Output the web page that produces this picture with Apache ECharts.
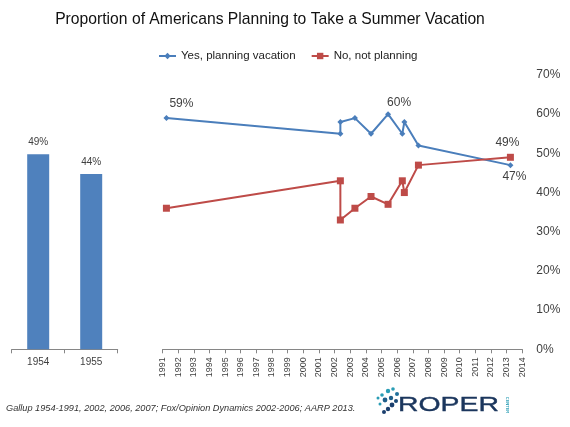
<!DOCTYPE html>
<html>
<head>
<meta charset="utf-8">
<script src="https://cdn.jsdelivr.net/npm/echarts@6/dist/echarts.min.js"></script>
<style>html,body{margin:0;padding:0;background:#fff;}#c{width:570px;height:427px;}</style>
</head>
<body>
<div id="c"></div>
<script>
const titleText = 'Proportion of Americans Planning to Take a Summer Vacation';
const barCategories = ['1954', '1955'];
const barValues = [49, 44];
const lineYears = [1991.25, 2002.37, 2002.37, 2003.3, 2004.33, 2005.42, 2006.33, 2006.46, 2007.36, 2013.24];
const yesValues = [59, 55, 58, 59, 55, 60, 55, 58, 52, 47];
const noValues = [36, 43, 33, 36, 39, 37, 43, 40, 47, 49];
const yesName = 'Yes, planning vacation';
const noName = 'No, not planning';
const sourceText = 'Gallup 1954-1991, 2002, 2006, 2007; Fox/Opinion Dynamics 2002-2006; AARP 2013.';

const FONT = 'Liberation Sans';
const TXT = '#404040';

function lbl(show, pos, offset) {
  return show ? {show: true, position: pos, offset: offset, formatter: '{@[1]}%', fontFamily: FONT, fontSize: 12, color: TXT} : {show: false};
}
const yesLabels = {0: ['top', [15, 0]], 5: ['top', [11, 3]], 9: ['bottom', [4, -2]]};
const noLabels = {9: ['top', [-3, 0]]};

const yesData = lineYears.map((x, i) => {
  const d = {value: [x, yesValues[i]]};
  if (yesLabels[i]) d.label = lbl(true, yesLabels[i][0], yesLabels[i][1]);
  return d;
});
const noData = lineYears.map((x, i) => {
  const d = {value: [x, noValues[i]]};
  if (noLabels[i]) d.label = lbl(true, noLabels[i][0], noLabels[i][1]);
  return d;
});

const chart = echarts.init(document.getElementById('c'), null, {renderer: 'canvas'});

const dots = [
  [388,391,2.2,'#2a9db5'],[393,389,1.8,'#2a9db5'],[382,395,1.8,'#2a9db5'],[397,394,2,'#1f6f9a'],
  [385,400,2.4,'#1f5f8a'],[391,398,2.2,'#1f5f8a'],[396,401,2,'#1b4a78'],[392,405,2.4,'#1b3f6e'],
  [388,409,2.2,'#1b3f6e'],[384,412,2,'#1b3f6e'],[378,398,1.5,'#2a9db5'],[380,404,1.5,'#2a9db5']
];

const graphics = [
  {type: 'text', x: 270, y: 19, scaleX: 0.923, style: {text: titleText, x: 0, y: 0, align: 'center', verticalAlign: 'middle', font: '17px "' + FONT + '"', fill: '#111'}},
  {type: 'text', x: 6, y: 408, style: {text: sourceText, align: 'left', verticalAlign: 'middle', font: 'italic 9.2px "' + FONT + '"', fill: '#333'}},
  {type: 'text', x: 398, y: 405, scaleX: 1.42, style: {text: 'ROPER', align: 'left', verticalAlign: 'middle', font: '20px "' + FONT + '"', fill: '#1b365d', stroke: '#1b365d', lineWidth: 0.4}},
  {type: 'text', x: 507, y: 405, rotation: -Math.PI / 2, style: {text: 'CENTER', align: 'center', verticalAlign: 'middle', font: 'bold 4px "' + FONT + '"', fill: '#2a9db5'}}
];
dots.forEach(d => graphics.push({type: 'circle', shape: {cx: d[0], cy: d[1], r: d[2]}, style: {fill: d[3]}}));

chart.setOption({
  animation: false,
  backgroundColor: '#fff',
  legend: {
    data: [yesName, noName],
    top: 45, left: 153,
    itemWidth: 17, itemHeight: 8, itemGap: 15,
    textStyle: {fontFamily: FONT, fontSize: 11.5, color: '#222'}
  },
  grid: [
    {left: 11.7, width: 106, top: 70.5, bottom: 77.7},
    {left: 162.5, right: 47.7, top: 75, bottom: 77.7}
  ],
  xAxis: [
    {
      gridIndex: 0, type: 'category', data: barCategories,
      axisLine: {lineStyle: {color: '#868686', width: 1}},
      axisTick: {show: true, alignWithLabel: false, length: 4, lineStyle: {color: '#868686'}},
      axisLabel: {fontFamily: FONT, fontSize: 10, color: TXT, margin: 8}
    },
    {
      gridIndex: 1, type: 'value', min: 1991, max: 2014, interval: 1,
      axisLine: {lineStyle: {color: '#868686', width: 1}},
      axisTick: {show: true, length: 4, lineStyle: {color: '#868686'}},
      splitLine: {show: false},
      axisLabel: {rotate: 90, fontFamily: FONT, fontSize: 9, color: TXT, margin: 8, formatter: v => String(v), showMinLabel: true, showMaxLabel: true}
    }
  ],
  yAxis: [
    {gridIndex: 0, type: 'value', min: 0, max: 70, show: false, splitLine: {show: false}},
    {
      gridIndex: 1, type: 'value', min: 0, max: 70, interval: 10, position: 'right',
      axisLine: {show: false}, axisTick: {show: false}, splitLine: {show: false},
      axisLabel: {formatter: '{value}%', fontFamily: FONT, fontSize: 12, color: TXT, margin: 14}
    }
  ],
  series: [
    {
      type: 'bar', xAxisIndex: 0, yAxisIndex: 0, data: barValues, barWidth: 22,
      itemStyle: {color: '#4f81bd'},
      label: {show: true, position: 'top', distance: 7, formatter: '{c}%', fontFamily: FONT, fontSize: 10, color: TXT}
    },
    {
      name: yesName, type: 'line', xAxisIndex: 1, yAxisIndex: 1, data: yesData,
      symbol: 'diamond', symbolSize: 6, showAllSymbol: true,
      lineStyle: {color: '#4a7ebb', width: 2}, itemStyle: {color: '#4a7ebb'},
      label: {show: false}
    },
    {
      name: noName, type: 'line', xAxisIndex: 1, yAxisIndex: 1, data: noData,
      symbol: 'rect', symbolSize: 7, showAllSymbol: true,
      lineStyle: {color: '#be4b48', width: 2}, itemStyle: {color: '#be4b48'},
      label: {show: false}
    }
  ],
  graphic: graphics
});
</script>
</body>
</html>
